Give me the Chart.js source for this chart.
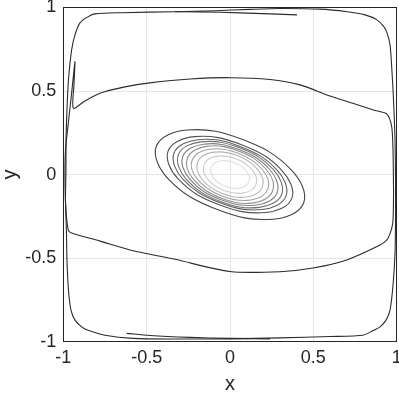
<!DOCTYPE html>
<html><head><meta charset="utf-8">
<script src="https://cdn.jsdelivr.net/npm/chart.js@4/dist/chart.umd.min.js"></script>
<style>html,body{margin:0;padding:0;background:#fff}#c{display:block}</style>
</head><body>
<canvas id="c" width="399" height="395"></canvas>
<script>
const xTicks = [-1, -0.5, 0, 0.5, 1];
const yTicks = [-1, -0.5, 0, 0.5, 1];

// closed contour rings around the centre (outer -> inner)
const ring1 = [[0.442,-0.170],[0.369,0.027],[0.080,0.208],[-0.256,0.267],[-0.442,0.170],[-0.369,-0.027],[-0.080,-0.208],[0.256,-0.267]];
const ring2 = [[0.371,-0.142],[0.311,0.026],[0.069,0.179],[-0.214,0.227],[-0.371,0.142],[-0.311,-0.026],[-0.069,-0.179],[0.214,-0.227]];
const ring3 = [[0.336,-0.129],[0.283,0.027],[0.064,0.167],[-0.192,0.209],[-0.336,0.129],[-0.283,-0.027],[-0.064,-0.167],[0.192,-0.209]];
const ring4 = [[0.310,-0.119],[0.262,0.028],[0.061,0.159],[-0.176,0.196],[-0.310,0.119],[-0.262,-0.028],[-0.061,-0.159],[0.176,-0.196]];
const ring5 = [[0.283,-0.109],[0.240,0.029],[0.057,0.149],[-0.159,0.182],[-0.283,0.109],[-0.240,-0.029],[-0.057,-0.149],[0.159,-0.182]];
const ring6 = [[0.256,-0.098],[0.219,0.029],[0.054,0.140],[-0.143,0.169],[-0.256,0.098],[-0.219,-0.029],[-0.054,-0.140],[0.143,-0.169]];
const ring7 = [[0.227,-0.087],[0.195,0.029],[0.049,0.128],[-0.125,0.152],[-0.227,0.087],[-0.195,-0.029],[-0.049,-0.128],[0.125,-0.152]];
const ring8 = [[0.194,-0.075],[0.168,0.028],[0.044,0.114],[-0.106,0.133],[-0.194,0.075],[-0.168,-0.028],[-0.044,-0.114],[0.106,-0.133]];
const ring9 = [[0.156,-0.060],[0.136,0.025],[0.036,0.095],[-0.085,0.109],[-0.156,0.060],[-0.136,-0.025],[-0.036,-0.095],[0.085,-0.109]];
const ring10 = [[0.113,-0.043],[0.099,0.020],[0.027,0.071],[-0.061,0.081],[-0.113,0.043],[-0.099,-0.020],[-0.027,-0.071],[0.061,-0.081]];
const rings = [ring1, ring2, ring3, ring4, ring5, ring6, ring7, ring8, ring9, ring10];
const ringColors = ['#444444','#525252','#616161','#707070','#808080','#919191','#a3a3a3','#b6b6b6','#cacaca','#dfdfdf'];

// outer loop hugging the box
const outerLoop = [[-0.984,0.207],[-0.978,0.387],[-0.969,0.566],[-0.950,0.746],[-0.930,0.836],[-0.900,0.908],[-0.858,0.941],[-0.810,0.962],[-0.648,0.969],[-0.330,0.975],[-0.090,0.981],[0.120,0.989],[0.300,0.994],[0.540,0.990],[0.702,0.975],[0.810,0.956],[0.882,0.926],[0.924,0.884],[0.942,0.848],[0.960,0.776],[0.970,0.644],[0.981,0.447],[0.990,0.207],[0.993,-0.032],[0.993,-0.272],[0.990,-0.469],[0.978,-0.661],[0.960,-0.811],[0.936,-0.871],[0.900,-0.911],[0.852,-0.937],[0.798,-0.961],[0.600,-0.969],[0.300,-0.977],[0,-0.983],[-0.330,-0.984],[-0.582,-0.980],[-0.750,-0.961],[-0.852,-0.931],[-0.888,-0.913],[-0.930,-0.871],[-0.954,-0.811],[-0.969,-0.691],[-0.978,-0.511],[-0.981,-0.350],[-0.987,-0.152],[-0.984,0.028],[-0.984,0.207]];
// upper wavy contour (left spike to right spike)
const upperBand = [[-0.970,0.307],[-0.948,0.507],[-0.930,0.676],[-0.936,0.537],[-0.940,0.397],[-0.870,0.441],[-0.780,0.487],[-0.630,0.525],[-0.480,0.549],[-0.240,0.572],[0,0.580],[0.240,0.569],[0.420,0.537],[0.600,0.470],[0.750,0.423],[0.870,0.384],[0.940,0.363],[0.970,0.287],[0.978,0.147]];
// lower wavy contour
const lowerBand = [[0.978,0.147],[0.981,-0.092],[0.978,-0.272],[0.970,-0.322],[0.954,-0.368],[0.940,-0.392],[0.900,-0.422],[0.700,-0.511],[0.498,-0.559],[0.300,-0.581],[0,-0.580],[-0.330,-0.507],[-0.600,-0.451],[-0.780,-0.398],[-0.950,-0.350],[-0.970,-0.332],[-0.984,-0.212],[-0.990,-0.032],[-0.987,0.147],[-0.970,0.307]];
const topSpur = [[-0.330,0.975],[-0.180,0.974],[0.060,0.968],[0.240,0.962],[0.402,0.956]];
const bottomSpur = [[0.240,-0.983],[0,-0.980],[-0.240,-0.974],[-0.480,-0.963],[-0.620,-0.950]];

const toXY = a => a.map(p => ({x: p[0], y: p[1]}));
const datasets = [];
rings.forEach((r, i) => {
  const closed = [r[r.length-1], ...r, r[0], r[1]];
  const n = closed.length;
  datasets.push({
    data: toXY(closed), showLine: true, borderColor: ringColors[i], borderWidth: 1.1,
    pointRadius: 0, tension: 0.4, fill: false,
    segment: { borderColor: ctx => (ctx.p0DataIndex === 0 || ctx.p1DataIndex === n - 1) ? 'rgba(0,0,0,0)' : undefined }
  });
});
[[outerLoop, 0.25], [upperBand, 0.25], [lowerBand, 0.25], [topSpur, 0.3], [bottomSpur, 0.3]].forEach(([c, t]) => {
  datasets.push({ data: toXY(c), showLine: true, borderColor: '#2b2b2b', borderWidth: 1.1, pointRadius: 0, tension: t, fill: false });
});

const FONT = "'Liberation Sans', Arial, Helvetica, sans-serif";
const TXT = '#262626';
const BORDER = '#262626';
const GRID = '#e6e6e6';
const noPad = s => { s.paddingLeft = 0; s.paddingRight = 0; s.paddingTop = 0; s.paddingBottom = 0; };

new Chart(document.getElementById('c'), {
  type: 'scatter',
  data: { datasets },
  options: {
    responsive: false, animation: false, events: [],
    layout: { padding: { top: 7.5, right: 2.3, left: 0, bottom: 0 } },
    plugins: { legend: { display: false }, tooltip: { enabled: false } },
    scales: {
      x: {
        type: 'linear', position: 'bottom', min: -1, max: 1,
        afterBuildTicks: s => { s.ticks = xTicks.map(v => ({ value: v })); },
        afterFit: s => { s.height = 53.3; noPad(s); },
        grid: { color: GRID, drawTicks: false, lineWidth: 1 },
        border: { display: true, color: BORDER, width: 1 },
        ticks: { color: TXT, font: { family: FONT, size: 18 }, padding: 6, maxRotation: 0, callback: v => String(v) },
        title: { display: true, text: 'x', color: TXT, font: { family: FONT, size: 20, lineHeight: 1 }, padding: { top: 0, bottom: 1 } }
      },
      y: {
        type: 'linear', position: 'left', min: -1, max: 1,
        afterBuildTicks: s => { s.ticks = yTicks.map(v => ({ value: v })); },
        afterFit: s => { s.width = 63.3; noPad(s); },
        grid: { color: GRID, drawTicks: false, lineWidth: 1 },
        border: { display: true, color: BORDER, width: 1 },
        ticks: { color: TXT, font: { family: FONT, size: 18 }, padding: 7, callback: v => String(v) },
        title: { display: true, text: 'y', color: TXT, font: { family: FONT, size: 20, lineHeight: 1 }, padding: { top: 0, bottom: 0 } }
      },
      x2: {
        type: 'linear', position: 'top', min: -1, max: 1,
        afterFit: s => { s.height = 0; noPad(s); },
        grid: { display: false, drawTicks: false },
        border: { display: true, color: BORDER, width: 1 },
        ticks: { display: false }
      },
      y2: {
        type: 'linear', position: 'right', min: -1, max: 1,
        afterFit: s => { s.width = 0; noPad(s); },
        grid: { display: false, drawTicks: false },
        border: { display: true, color: BORDER, width: 1 },
        ticks: { display: false }
      }
    }
  }
});
</script>
</body></html>
